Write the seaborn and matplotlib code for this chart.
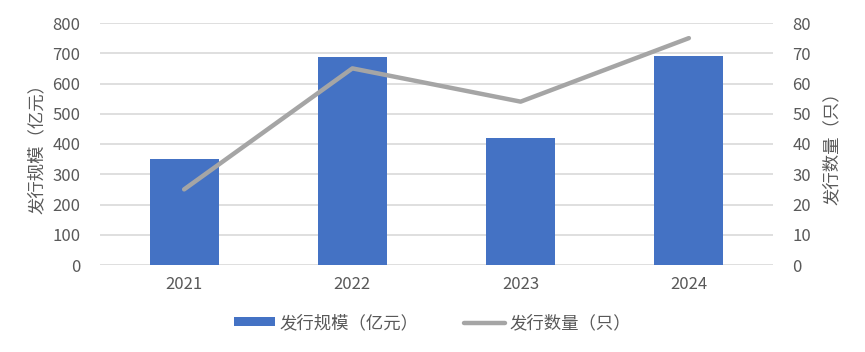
import matplotlib
matplotlib.use("Agg")
import matplotlib.pyplot as plt
import seaborn as sns
from matplotlib.patches import Patch
from matplotlib.lines import Line2D

years = ["2021", "2022", "2023", "2024"]
scale = [350, 688, 420, 691]      # 发行规模（亿元）
counts = [25, 65, 54, 75]         # 发行数量（只）
label_bar = "发行规模（亿元）"
label_line = "发行数量（只）"

sns.set_theme(style="white")
plt.rcParams["font.family"] = ["Noto Sans CJK SC", "DejaVu Sans"]

TEXT = "#595959"
BAR = "#4472C4"
LINE = "#A5A5A5"
GRID = "#D9D9D9"

fig = plt.figure(figsize=(8.65, 3.52), dpi=100)
ax = fig.add_axes([100/865, (352-265)/352, (773-100)/865, (265-23)/352])

sns.barplot(x=years, y=scale, color=BAR, width=0.41, saturation=1, linewidth=0,
            ax=ax, zorder=2)
ax.set_ylim(0, 800)
ax.set_yticks(range(0, 801, 100))
ax.set_xlim(-0.5, 3.5)
ax.yaxis.grid(True, color=GRID, linewidth=1.2, zorder=0)
ax.set_axisbelow(True)
for s in ax.spines.values():
    s.set_visible(False)
ax.tick_params(axis="both", length=0, colors=TEXT, labelsize=12)
ax.tick_params(axis="x", pad=8)
ax.tick_params(axis="y", pad=14)
ax.set_ylabel(label_bar, color=TEXT, fontsize=12.5, labelpad=5)
ax.set_xlabel("")

ax2 = ax.twinx()
sns.pointplot(x=years, y=counts, color=LINE, markersize=0, linewidth=3.2, ax=ax2, zorder=3)
ax2.set_ylim(0, 80)
ax2.set_yticks(range(0, 81, 10))
ax2.set_xlim(-0.5, 3.5)
for s in ax2.spines.values():
    s.set_visible(False)
ax2.tick_params(axis="y", length=0, colors=TEXT, labelsize=12, pad=14)
ax2.set_ylabel(label_line, color=TEXT, fontsize=12.5, labelpad=8)
ax2.grid(False)

handles = [Patch(facecolor=BAR, edgecolor="none"),
           Line2D([0], [0], color=LINE, linewidth=3.2, solid_capstyle="round")]
leg = fig.legend(handles, [label_bar, label_line], loc="center", bbox_to_anchor=(0.5, (352-323)/352),
                 ncol=2, frameon=False, fontsize=12.5, handlelength=2.4, handleheight=0.4,
                 columnspacing=2.6, handletextpad=0.25)
for t in leg.get_texts():
    t.set_color(TEXT)

fig.savefig("out.png", dpi=100)
